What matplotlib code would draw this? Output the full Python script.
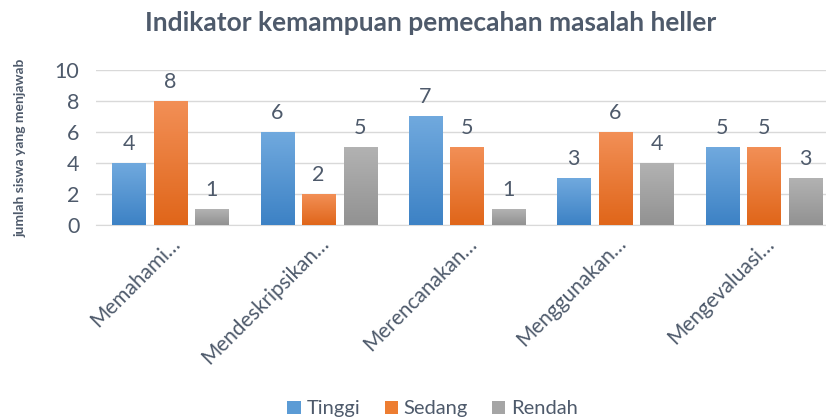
import numpy as np
import matplotlib

matplotlib.use("Agg")
import matplotlib.pyplot as plt
from matplotlib.colors import LinearSegmentedColormap

categories = [
    "Memahami\u2026",
    "Mendeskripsikan\u2026",
    "Merencanakan\u2026",
    "Menggunakan\u2026",
    "Mengevaluasi\u2026",
]
tinggi = [4, 6, 7, 3, 5]
sedang = [8, 2, 5, 6, 5]
rendah = [1, 5, 1, 4, 3]
series_names = ["Tinggi", "Sedang", "Rendah"]
y_ticks = [0, 2, 4, 6, 8, 10]

plt.rcParams["font.family"] = ["Lato", "DejaVu Sans"]
text_color = "#4E5A6B"

# (top, bottom) gradient colours per series, Excel-like
gradients = [
    ("#70A9DE", "#3D82C5"),
    ("#F28F56", "#E0661A"),
    ("#B2B2B2", "#929292"),
]
solid = ["#5B9BD5", "#ED7D31", "#A5A5A5"]

fig = plt.figure(figsize=(8.26, 4.18), dpi=100)
fig.patch.set_facecolor("white")
ax = fig.add_axes([96 / 826, 193 / 418, 742 / 826, 155 / 418])

x = np.arange(len(categories))
offset = 0.28
width = 0.223
all_series = [tinggi, sedang, rendah]

for i, (name, values) in enumerate(zip(series_names, all_series)):
    bars = ax.bar(x + (i - 1) * offset, values, width=width, color=solid[i],
                  label=name, zorder=2)
    cmap = LinearSegmentedColormap.from_list(name, [gradients[i][1], gradients[i][0]])
    for bar, v in zip(bars, values):
        bx, bw, bh = bar.get_x(), bar.get_width(), bar.get_height()
        grad = np.linspace(0, 1, 64).reshape(-1, 1)
        ax.imshow(grad, extent=[bx, bx + bw, 0, bh], origin="lower",
                  aspect="auto", cmap=cmap, zorder=3)
        ax.text(bx + bw / 2, bh + 0.6, str(v), ha="center", va="bottom",
                fontsize=15.5, color=text_color)

ax.set_xlim(-0.5, len(categories) - 0.5)
ax.set_ylim(0, 10)
ax.set_yticks(y_ticks)
ax.set_xticks(x)
ax.set_xticklabels(categories, rotation=45, ha="right", rotation_mode="anchor",
                   fontsize=15, color=text_color)
ax.tick_params(axis="y", labelsize=15.5, colors=text_color, length=0, pad=12)
ax.tick_params(axis="x", length=0, pad=6)
ax.grid(axis="y", color="#D9D9D9", linewidth=1, zorder=0)
ax.set_axisbelow(True)
for s in ["top", "right", "left"]:
    ax.spines[s].set_visible(False)
ax.spines["bottom"].set_color("#D9D9D9")

ax.set_ylabel("jumlah siswa yang menjawab", fontsize=10, fontweight="bold",
              color=text_color)
ax.yaxis.set_label_coords(-0.093, 0.5)

fig.text(0.521, 0.945, "Indikator kemampuan pemecahan masalah heller",
         ha="center", va="center", fontsize=19, fontweight="bold", color=text_color)

handles, labels = ax.get_legend_handles_labels()
fig.legend(handles, labels, loc="center", bbox_to_anchor=(0.524, 0.022),
           ncol=3, frameon=False, fontsize=14.5, handlelength=0.65,
           handleheight=0.65, handletextpad=0.3, columnspacing=1.2,
           labelcolor=text_color)

fig.savefig("out.png", dpi=100, facecolor="white")
